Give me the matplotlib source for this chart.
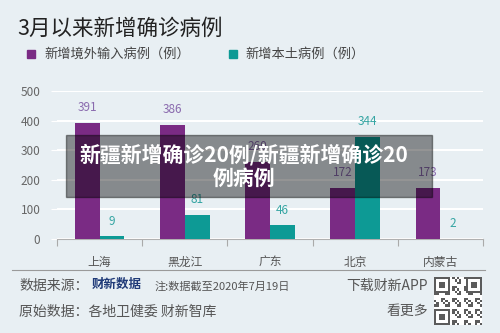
import matplotlib
matplotlib.use('Agg')
import matplotlib.pyplot as plt
from matplotlib.patches import Rectangle
import numpy as np

plt.rcParams['font.family'] = ['Noto Sans CJK SC', 'DejaVu Sans']

regions = ["上海", "黑龙江", "广东", "北京", "内蒙古"]
imported = [391, 386, 260, 172, 173]
local = [9, 81, 46, 344, 2]

purple = '#7a2b84'
teal = '#0d9a95'
bg = '#e8eff3'

fig = plt.figure(figsize=(5, 3.33), dpi=100, facecolor=bg)

ax = fig.add_axes([0.114, 0.282, 0.852, 0.445], facecolor=bg)
x = np.arange(len(regions))
w = 0.29
ax.bar(x - w / 2, imported, w, color=purple, zorder=3)
ax.bar(x + w / 2, local, w, color=teal, zorder=3)
for i in range(len(regions)):
    ax.annotate(str(imported[i]), (x[i] - w / 2, imported[i]), xytext=(0, 11),
                textcoords='offset points', ha='center', va='center',
                fontsize=8.5, color='#8a6aae')
    ax.annotate(str(local[i]), (x[i] + w / 2, local[i]), xytext=(0, 11),
                textcoords='offset points', ha='center', va='center',
                fontsize=8.5, color='#35a5a3')

ax.set_xlim(-0.5, 4.5)
ax.set_ylim(0, 500)
ax.set_yticks([0, 100, 200, 300, 400, 500])
ax.grid(axis='y', color='white', linewidth=1.5, zorder=0)
ax.tick_params(axis='y', length=4, color='white', labelsize=8.5, labelcolor='#666666', pad=8)
ax.set_xticks(np.arange(-0.5, 5, 1))
ax.set_xticklabels([])
ax.set_xticks(x, minor=True)
ax.set_xticklabels(regions, minor=True)
ax.tick_params(axis='x', which='major', length=5, color='#aaaaaa', direction='out')
ax.tick_params(axis='x', which='minor', length=0, labelsize=8.5, labelcolor='#555555', pad=12)
for s in ['top', 'right', 'left']:
    ax.spines[s].set_visible(False)
ax.spines['bottom'].set_color('#b0b0b0')

# title and legend
fig.text(0.034, 0.915, "3月以来新增确诊病例", fontsize=15.5, color='#222222', va='center')
fig.patches.append(Rectangle((0.054, 0.825), 0.016, 0.024, color=purple, transform=fig.transFigure))
fig.text(0.088, 0.837, "新增境外输入病例（例）", fontsize=9.5, color='#444444', va='center')
fig.patches.append(Rectangle((0.458, 0.825), 0.016, 0.024, color=teal, transform=fig.transFigure))
fig.text(0.49, 0.837, "新增本土病例（例）", fontsize=9.5, color='#444444', va='center')

# footer
fig.add_artist(plt.Line2D([0.024, 0.97], [0.19, 0.19], color='#9a9a9a', linewidth=0.8,
                          transform=fig.transFigure))
fig.text(0.038, 0.141, "数据来源：", fontsize=10, color='#555555', va='center')
fig.text(0.184, 0.145, "财新数据", fontsize=9, color='#1f3a78', va='center', fontweight='bold')
fig.text(0.31, 0.141, "注:数据截至2020年7月19日", fontsize=8, color='#555555', va='center')
fig.text(0.038, 0.065, "原始数据：各地卫健委 财新智库", fontsize=10, color='#555555', va='center')
fig.text(0.856, 0.141, "下载财新APP", fontsize=10, color='#555555', va='center', ha='right')
fig.text(0.856, 0.065, "看更多", fontsize=10, color='#555555', va='center', ha='right')

# qr-like block
qa = fig.add_axes([0.868, 0.025, 0.096, 0.145])
n = 21
ii, jj = np.meshgrid(np.arange(n), np.arange(n))
qr = (((ii * 7 + jj * 13 + ii * jj) % 5) < 2).astype(float)
for (r, c) in [(0, 0), (0, n - 7), (n - 7, 0)]:
    qr[r:r + 7, c:c + 7] = 1
    qr[r + 1:r + 6, c + 1:c + 6] = 0
    qr[r + 2:r + 5, c + 2:c + 5] = 1
qa.imshow(qr, cmap='Greys', interpolation='nearest', vmin=0, vmax=1.4)
qa.axis('off')

# overlay banner
fig.patches.append(Rectangle((0.132, 0.408), 0.732, 0.186, color='black', alpha=0.42,
                             transform=fig.transFigure, zorder=10))
fig.text(0.487, 0.5, "新疆新增确诊20例/新疆新增确诊20\n例病例", fontsize=15, color='white',
         fontweight='bold', ha='center', va='center', linespacing=1.1, zorder=11)

fig.savefig('out.png', dpi=100, facecolor=bg)
